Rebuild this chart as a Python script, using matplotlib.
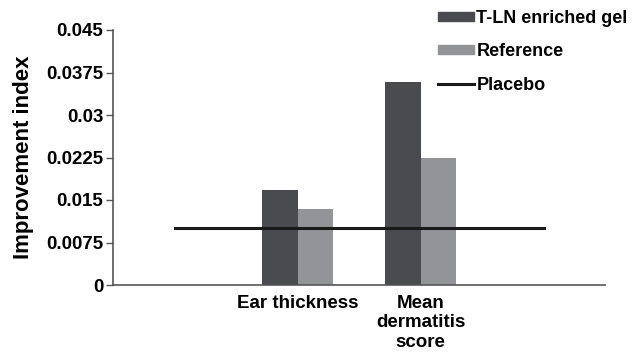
import matplotlib
matplotlib.use('AGG')
import numpy as np
import matplotlib.pyplot as plt
from matplotlib.patches import Patch
from matplotlib.lines import Line2D

plt.rcParams['font.family'] = ['Liberation Sans', 'DejaVu Sans']
plt.rcParams['font.weight'] = 'bold'

categories = ['', 'Ear thickness', 'Mean\ndermatitis\nscore', '']
tln_gel = [np.nan, 0.0167, 0.0358, np.nan]
reference = [np.nan, 0.0135, 0.0224, np.nan]
placebo = [0.01, 0.01, 0.01, 0.01]
yticks = [0, 0.0075, 0.015, 0.0225, 0.03, 0.0375, 0.045]
ytick_labels = ['0', '0.0075', '0.015', '0.0225', '0.03', '0.0375', '0.045']

dark = '#4a4b4f'
light = '#939498'
axis_col = '#555555'
fs = 13.5

fig = plt.figure(figsize=(6.38, 3.52), dpi=100)
ax = fig.add_axes([113 / 638, 67 / 352, 492 / 638, 255 / 352])

x = np.arange(len(categories))
w = 0.285
ax.bar(x - w / 2, tln_gel, w, color=dark)
ax.bar(x + w / 2, reference, w, color=light)
ax.plot(x, placebo, color='#1a1a1a', lw=2.2)

ax.set_xlim(-0.5, len(categories) - 0.5)
ax.set_ylim(0, 0.045)
ax.set_yticks(yticks)
ax.set_yticklabels(ytick_labels, fontsize=fs, fontweight='bold')
ax.set_xticks(x)
ax.set_xticklabels(categories, fontsize=fs, fontweight='bold', va='top',
                   linespacing=1.2)
ax.tick_params(axis='x', length=0, pad=7)
ax.tick_params(axis='y', length=5, width=1, color=axis_col, pad=2)
for s in ['top', 'right']:
    ax.spines[s].set_visible(False)
for s in ['left', 'bottom']:
    ax.spines[s].set_color(axis_col)
    ax.spines[s].set_linewidth(1.2)
ax.set_ylabel('Improvement index', fontsize=16, fontweight='bold', labelpad=9)

handles = [Patch(color=dark), Patch(color=light),
           Line2D([], [], color='#1a1a1a', lw=2.2)]
labels = ['T-LN enriched gel', 'Reference', 'Placebo']
fig.legend(handles, labels, loc='upper left', bbox_to_anchor=(438 / 638, 1 - 10 / 352),
           frameon=False, handlelength=2.0, handleheight=0.4, borderpad=0,
           handletextpad=0.12, labelspacing=0.9, borderaxespad=0,
           prop={'weight': 'bold', 'size': 13.0})

fig.savefig('out.png', dpi=100)
